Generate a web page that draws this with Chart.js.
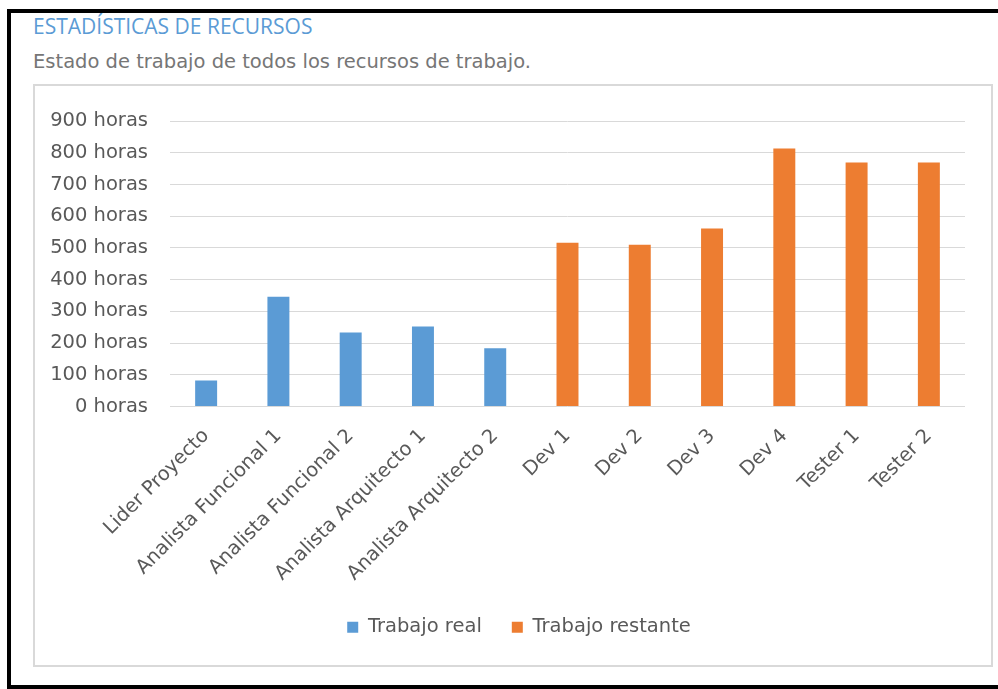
<!DOCTYPE html>
<html>
<head>
<meta charset="utf-8">
<script src="https://cdn.jsdelivr.net/npm/chart.js@4/dist/chart.umd.min.js"></script>
<style>
  body { margin: 0; background: #fff; width: 998px; height: 689px; overflow: hidden; position: relative; }
  #frame { position: absolute; left: 7px; top: 9px; width: 1000px; height: 680px; box-sizing: border-box; border: 4px solid #000; }
  #title { position: absolute; left: 33px; top: 16px; font: 21px "Open Sans", sans-serif; line-height: 1; color: #5b9bd5; white-space: nowrap; }
  #subtitle { position: absolute; left: 33px; top: 52px; font: 19.5px "DejaVu Sans", sans-serif; line-height: 1; color: #767676; white-space: nowrap; }
  #box { position: absolute; left: 33px; top: 84px; width: 960px; height: 583px; box-sizing: border-box; border: 2px solid #d9d9d9; }
  #wrap { position: absolute; left: 0; top: 0; width: 956px; height: 579px; }
</style>
</head>
<body>
<div id="frame"></div>
<div id="title">ESTADÍSTICAS DE RECURSOS</div>
<div id="subtitle">Estado de trabajo de todos los recursos de trabajo.</div>
<div id="box"><div id="wrap"><canvas id="recursos"></canvas></div></div>
<script>
var recursos = ['Lider Proyecto', 'Analista Funcional 1', 'Analista Funcional 2', 'Analista Arquitecto 1',
    'Analista Arquitecto 2', 'Dev 1', 'Dev 2', 'Dev 3', 'Dev 4', 'Tester 1', 'Tester 2'];
var trabajoReal = [82, 346, 233, 252, 184, null, null, null, null, null, null];
var trabajoRestante = [null, null, null, null, null, 516, 510, 561, 813, 769, 769];
var horasTicks = [0, 100, 200, 300, 400, 500, 600, 700, 800, 900];

var gris = '#595959';
var fuente = { family: 'DejaVu Sans', size: 19.5 };

// the legend sits a bit right of the canvas centre in the original
var moverLeyenda = {
    id: 'moverLeyenda',
    afterLayout: function (chart) {
        chart.legend.left += 14;
        chart.legend.right += 14;
    }
};

var ctx = document.getElementById('recursos').getContext('2d');
var myChart = new Chart(ctx, {
    type: 'bar',
    data: {
        labels: recursos,
        datasets: [{
            label: 'Trabajo real',
            data: trabajoReal,
            backgroundColor: '#5b9bd5'
        }, {
            label: 'Trabajo restante',
            data: trabajoRestante,
            backgroundColor: '#ed7d31'
        }]
    },
    plugins: [moverLeyenda],
    options: {
        responsive: true,
        maintainAspectRatio: false,
        animation: false,
        layout: { padding: { left: 10, right: 26, top: 35, bottom: 18 } },
        datasets: { bar: { categoryPercentage: 1, barPercentage: 0.304 } },
        plugins: {
            tooltip: { enabled: false },
            legend: {
                position: 'bottom',
                labels: { color: gris, font: fuente, boxWidth: 11, boxHeight: 11, padding: 30 }
            }
        },
        scales: {
            x: {
                stacked: true,
                grid: { display: false },
                border: { display: false },
                ticks: { color: gris, font: fuente, minRotation: 45, maxRotation: 45, padding: 10 },
                afterFit: function (scale) { scale.height = 181; }
            },
            y: {
                stacked: true,
                min: 0,
                max: 900,
                grid: { color: '#d9d9d9', lineWidth: 1, drawTicks: false },
                border: { display: false },
                afterBuildTicks: function (scale) {
                    scale.ticks = horasTicks.map(function (v) { return { value: v }; });
                },
                ticks: {
                    color: gris,
                    font: fuente,
                    padding: 22,
                    callback: function (v) { return v + ' horas'; }
                },
                afterFit: function (scale) { scale.width = 125; }
            }
        }
    }
});
</script>
</body>
</html>
